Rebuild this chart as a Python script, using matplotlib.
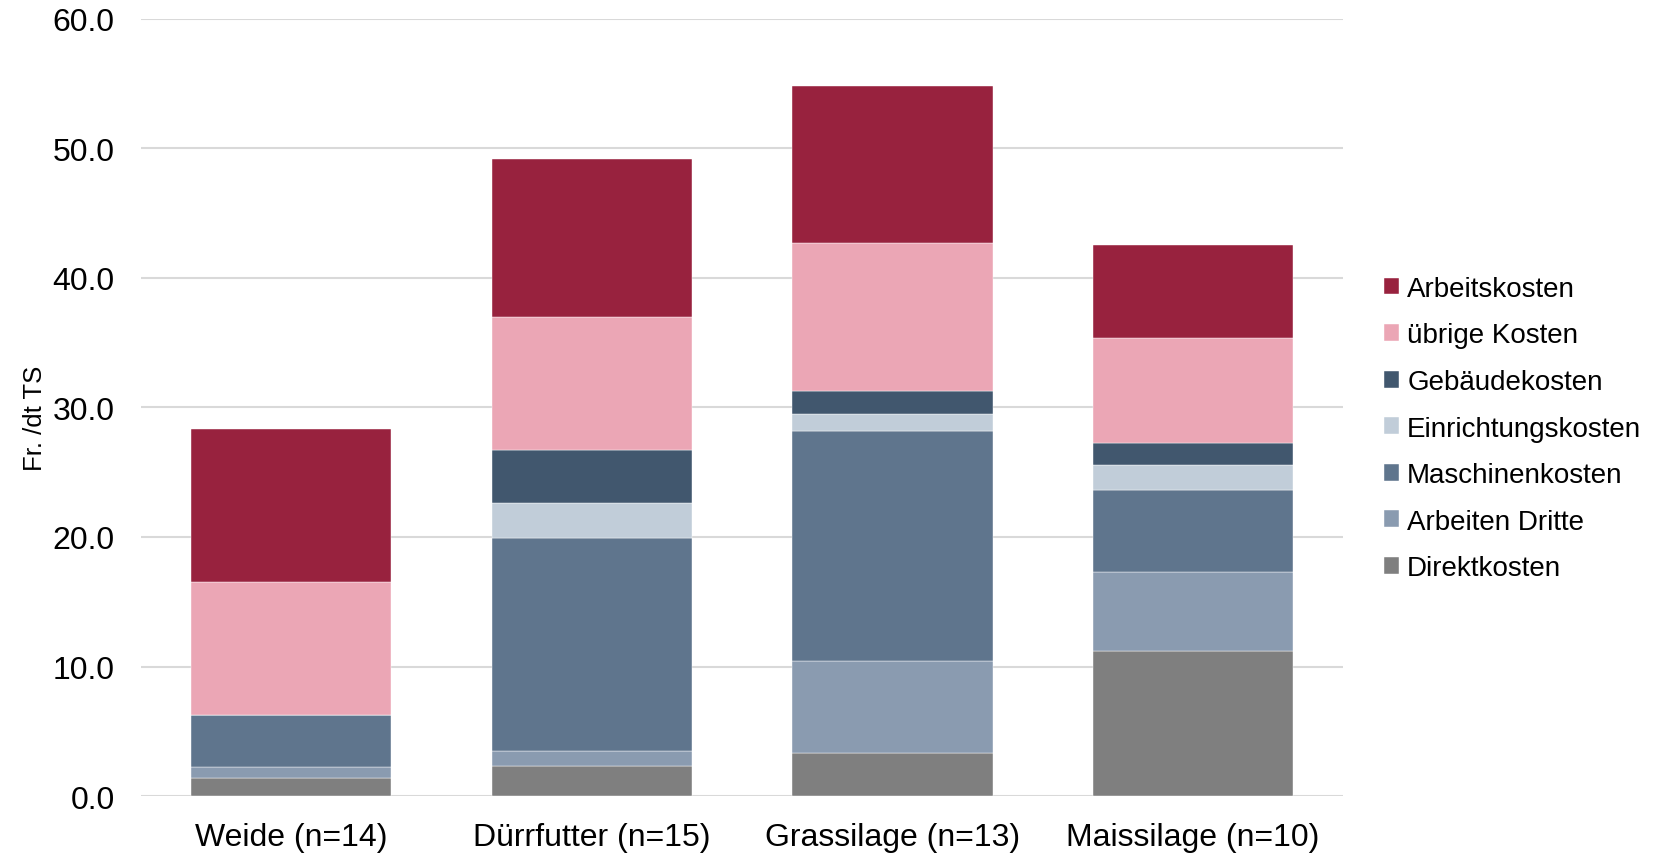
import matplotlib.pyplot as plt
import numpy as np

plt.rcParams['font.family'] = ['Liberation Sans', 'DejaVu Sans']

# Kosten pro dt TS nach Futterart
futterarten = ['Weide (n=14)', 'Dürrfutter (n=15)', 'Grassilage (n=13)', 'Maissilage (n=10)']

direktkosten = [1.4, 2.3, 3.3, 11.2]
arbeiten_dritte = [0.85, 1.2, 7.1, 6.1]
maschinenkosten = [4.0, 16.45, 17.75, 6.3]
einrichtungskosten = [0.0, 2.7, 1.35, 1.95]
gebaeudekosten = [0.0, 4.1, 1.8, 1.7]
uebrige_kosten = [10.3, 10.2, 11.4, 8.15]
arbeitskosten = [11.8, 12.2, 12.1, 7.15]

kategorien = ['Direktkosten', 'Arbeiten Dritte', 'Maschinenkosten', 'Einrichtungskosten',
              'Gebäudekosten', 'übrige Kosten', 'Arbeitskosten']
werte = [direktkosten, arbeiten_dritte, maschinenkosten, einrichtungskosten,
         gebaeudekosten, uebrige_kosten, arbeitskosten]
farben = ['#7F7F7F', '#8A9BB0', '#5F758D', '#C1CDD9', '#41576E', '#EBA6B5', '#98223E']

fig = plt.figure(figsize=(16.61, 8.54), dpi=100)
ax = fig.add_axes([0.0849, 0.0667, 0.7237, 0.91])

x = np.arange(len(futterarten))
bottom = np.zeros(len(futterarten))
handles = []
for name, vals, col in zip(kategorien, werte, farben):
    bars = ax.bar(x, vals, width=0.667, bottom=bottom, color=col, label=name,
                  edgecolor='white', linewidth=0.3, zorder=3)
    handles.append(bars)
    bottom += np.array(vals)

ax.set_xlim(-0.5, 3.5)
ax.set_ylim(0, 60)
ax.set_yticks(np.arange(0, 61, 10))
ax.set_yticklabels([f'{v:.1f}' for v in np.arange(0, 61, 10)])
ax.set_xticks(x)
ax.set_xticklabels(futterarten)
ax.tick_params(axis='both', length=0, labelsize=23, colors='black')
ax.tick_params(axis='y', pad=19)
ax.tick_params(axis='x', pad=19)

ax.yaxis.grid(True, color='#D9D9D9', linewidth=1.5, zorder=0)
ax.set_axisbelow(True)
for s in ax.spines.values():
    s.set_visible(False)

fig.text(0.021, 0.51, 'Fr. /dt TS', rotation=90, va='center', ha='center', fontsize=18.5)

leg = fig.legend(handles[::-1], kategorien[::-1], loc='center left',
                 bbox_to_anchor=(0.833, 0.497), frameon=False, fontsize=20,
                 handlelength=0.55, handleheight=0.55, handletextpad=0.3,
                 labelspacing=0.74, borderpad=0, borderaxespad=0)

fig.savefig('out.png', dpi=100)
